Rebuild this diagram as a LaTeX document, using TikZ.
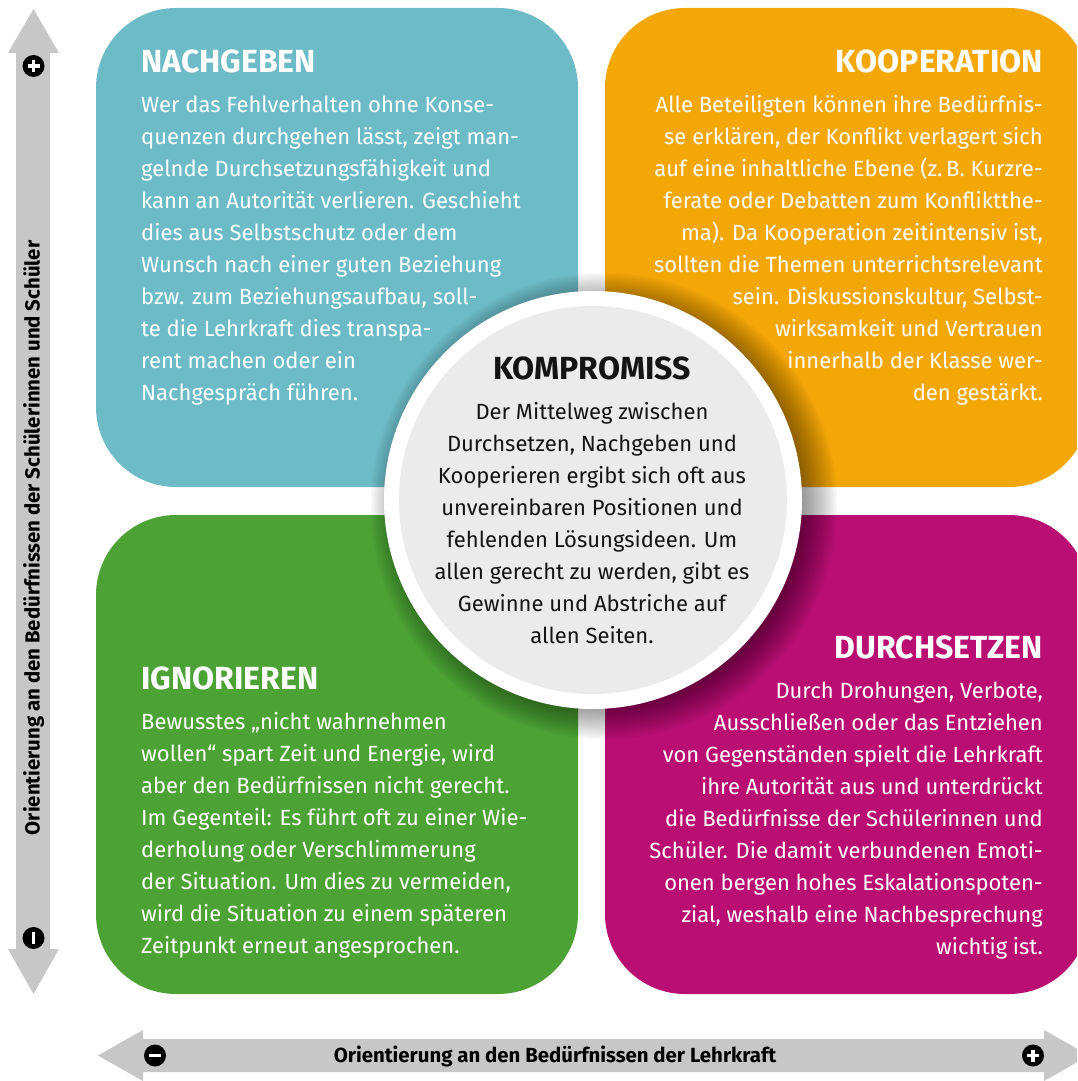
\documentclass[tikz,border=0pt]{standalone}
\usepackage{fontspec}
\setmainfont{Fira Sans}
\usetikzlibrary{calc}
\definecolor{cteal}{HTML}{6DBBC7}
\definecolor{corange}{HTML}{F4A708}
\definecolor{cgreen}{HTML}{4CA235}
\definecolor{cmagenta}{HTML}{B90F73}
\definecolor{carrow}{HTML}{C6C7C6}
\definecolor{ccircle}{HTML}{EBEBEB}
\definecolor{ctext}{HTML}{141414}
\tikzset{
  quad/.style={rounded corners=80pt, draw=none},
  qtitle/.style={inner sep=0pt, text=white, font=\fontsize{32}{36}\selectfont\bfseries},
  qbody/.style={inner sep=0pt, text=white, font=\fontsize{22}{32}\selectfont},
  axislabel/.style={inner sep=0pt, text=black, font=\fontsize{20.4}{24}\selectfont\bfseries},
  iconbg/.style={circle, fill=black, minimum size=22pt, inner sep=0pt},
  iconbar/.style={white, line width=3.2pt},
}
\begin{document}
\begin{tikzpicture}[x=1pt,y=-1pt]
\useasboundingbox (0,0) rectangle (1077,1081);
\clip (0,0) rectangle (1077,1081);
% quadrants
\fill[quad, cteal] (96,8) rectangle (578,487);
\fill[quad, corange] (605,8) rectangle (1089,487);
\fill[quad, cgreen] (96,515) rectangle (578,994);
\fill[quad, cmagenta] (605,515) rectangle (1089,994);
% vertical arrow
\fill[carrow] (16,53) -- (8,53) -- (33.5,9) -- (59,53) -- (50,53) -- (50,949) -- (59,949) -- (33.5,994) -- (8,949) -- (16,949) -- cycle;
% horizontal arrow
\fill[carrow] (143,1039) -- (143,1030) -- (98,1055.5) -- (143,1081) -- (143,1072) -- (1044,1072) -- (1044,1081) -- (1089,1055.5) -- (1044,1030) -- (1044,1039) -- cycle;
% icons
\node[iconbg] (iplusv) at (33.5,66) {};
\draw[iconbar] ($(iplusv)+(-6,0)$) -- ($(iplusv)+(6,0)$);
\draw[iconbar] ($(iplusv)+(0,-6)$) -- ($(iplusv)+(0,6)$);
\node[iconbg] (iminusv) at (33.5,938) {};
\draw[iconbar] ($(iminusv)+(0,-6)$) -- ($(iminusv)+(0,6)$);
\node[iconbg] (iminush) at (155,1055.5) {};
\draw[iconbar] ($(iminush)+(-6,0)$) -- ($(iminush)+(6,0)$);
\node[iconbg] (iplush) at (1033,1055.5) {};
\draw[iconbar] ($(iplush)+(-6,0)$) -- ($(iplush)+(6,0)$);
\draw[iconbar] ($(iplush)+(0,-6)$) -- ($(iplush)+(0,6)$);
% axis labels
\node[axislabel, rotate=90] (vlabel) at (33.5,538) {Orientierung an den Bedürfnissen der Schülerinnen und Schüler};
\node[axislabel] (hlabel) at (555,1056) {Orientierung an den Bedürfnissen der Lehrkraft};
% shadow of circle
\foreach \i in {1,...,16} {
  \fill[black, opacity=0.03] (604,506) circle ({198+2.2*\i});
}
% circle
\fill[white] (593,500) circle (209);
\fill[ccircle] (593,500) circle (194);
% NACHGEBEN
\node[qtitle, anchor=base west] (t1) at (141,73) {NACHGEBEN};
\node[qbody, anchor=base west, align=left] (b1) at (141,400) {Wer das Fehlverhalten ohne Konse-\\quenzen durchgehen lässt, zeigt man-\\gelnde Durchsetzungsfähigkeit und\\kann an Autorität verlieren. Geschieht\\dies aus Selbstschutz oder dem\\Wunsch nach einer guten Beziehung\\bzw. zum Beziehungsaufbau, soll-\\te die Lehrkraft dies transpa-\\rent machen oder ein\\Nachgespräch führen.};
% KOOPERATION
\node[qtitle, anchor=base east] (t2) at (1043,73) {KOOPERATION};
\node[qbody, anchor=base east, align=right] (b2) at (1043,400) {Alle Beteiligten können ihre Bedürfnis-\\se erklären, der Konflikt verlagert sich\\auf eine inhaltliche Ebene (z.\,B. Kurzre-\\ferate oder Debatten zum Konfliktthe-\\ma). Da Kooperation zeitintensiv ist,\\sollten die Themen unterrichtsrelevant\\sein. Diskussionskultur, Selbst-\\wirksamkeit und Vertrauen\\innerhalb der Klasse wer-\\den gestärkt.};
% IGNORIEREN
\node[qtitle, anchor=base west] (t3) at (141,689) {IGNORIEREN};
\node[qbody, anchor=base west, align=left] (b3) at (141,953) {Bewusstes „nicht wahrnehmen\\wollen“ spart Zeit und Energie, wird\\aber den Bedürfnissen nicht gerecht.\\Im Gegenteil: Es führt oft zu einer Wie-\\derholung oder Verschlimmerung\\der Situation. Um dies zu vermeiden,\\wird die Situation zu einem späteren\\Zeitpunkt erneut angesprochen.};
% DURCHSETZEN
\node[qtitle, anchor=base east] (t4) at (1043,658) {DURCHSETZEN};
\node[qbody, anchor=base east, align=right] (b4) at (1043,954) {Durch Drohungen, Verbote,\\Ausschließen oder das Entziehen\\von Gegenständen spielt die Lehrkraft\\ihre Autorität aus und unterdrückt\\die Bedürfnisse der Schülerinnen und\\Schüler. Die damit verbundenen Emoti-\\onen bergen hohes Eskalationspoten-\\zial, weshalb eine Nachbesprechung\\wichtig ist.};
% KOMPROMISS
\node[qtitle, text=ctext, anchor=base] (t5) at (592,379) {KOMPROMISS};
\node[qbody, text=ctext, anchor=base, align=center] (b5) at (592,643) {Der Mittelweg zwischen\\Durchsetzen, Nachgeben und\\Kooperieren ergibt sich oft aus\\unvereinbaren Positionen und\\fehlenden Lösungsideen. Um\\allen gerecht zu werden, gibt es\\Gewinne und Abstriche auf\\allen Seiten.};
\end{tikzpicture}
\end{document}
